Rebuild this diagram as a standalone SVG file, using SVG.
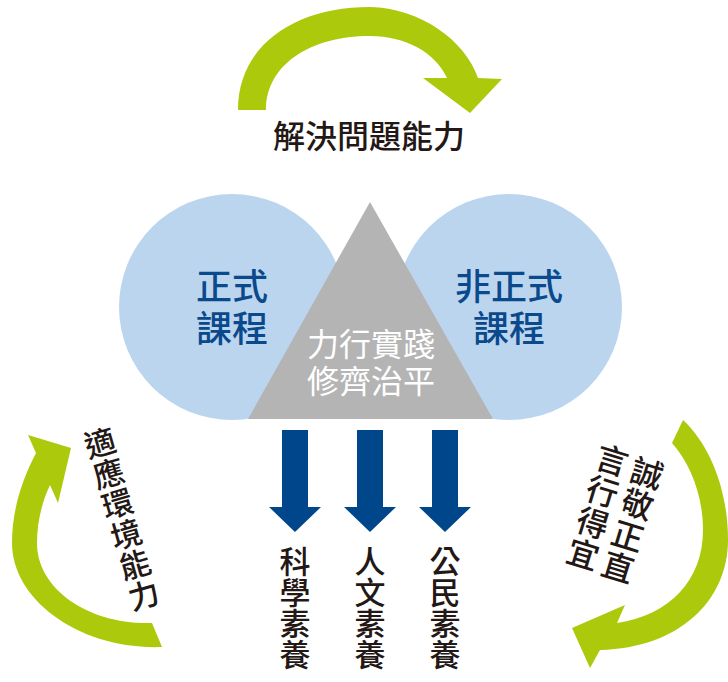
<svg xmlns="http://www.w3.org/2000/svg" width="728" height="682" viewBox="0 0 728 682">
<style>
.green{fill:#adc90b}
.circle{fill:#bcd5ee}
.tri{fill:#b4b4b4}
.down{fill:#00468b}
.t{font-family:"Noto Sans CJK TC","Noto Sans CJK SC",sans-serif;text-anchor:middle}
.dark{fill:#231815;font-size:31px;font-weight:500}
.blue{fill:#0a4a8c;font-size:36px;font-weight:500}
.white{fill:#ffffff;font-size:32px}
.v{font-family:"Noto Sans CJK TC","Noto Sans CJK SC",sans-serif;text-anchor:start;writing-mode:vertical-rl;text-orientation:upright;fill:#231815;font-size:31px;font-weight:500}
</style>
<rect width="728" height="682" fill="#ffffff"/>
<g id="arrows-cycle">
<path class="green" d="M238,110 C238,45 295,7 370,7 C420,8 465,40 478,78 L502,79 L470,113 L423,78 L447,78 C435,52 405,36 370,36 C310,36 266,65 266,110 Z"/>
<path class="green" d="M36,453 C22,480 12,510 12,543 C12,600 80,650 162,647 L152,623 C90,625 37,590 37,543 C37,522 42,502 50,485 L58,503 L71,448 L28,435 Z"/>
<path class="green" d="M683,420 C710,445 728,490 728,540 C728,600 680,648 600,650 L590,668 L572,628 L625,605 L617,623 C670,615 703,580 703,530 C703,495 690,463 672,443 Z"/>
</g>
<g id="node-formal">
<circle class="circle" cx="232" cy="307" r="113"/>
<text class="t blue" x="232" y="300">正式</text>
<text class="t blue" x="232" y="342">課程</text>
</g>
<g id="node-informal">
<circle class="circle" cx="509" cy="307" r="113"/>
<text class="t blue" x="509" y="300">非正式</text>
<text class="t blue" x="509" y="342">課程</text>
</g>
<g id="node-practice">
<polygon class="tri" points="370,202 493,419 248,419"/>
<text class="t white" x="371" y="356">力行實踐</text>
<text class="t white" x="371" y="393">修齊治平</text>
</g>
<g id="connectors">
<polygon class="down" points="282,430 308,430 308,507 321,507 295,532 269,507 282,507"/>
<polygon class="down" points="357,430 383,430 383,507 396,507 370,532 344,507 357,507"/>
<polygon class="down" points="432,430 458,430 458,507 471,507 445,532 419,507 432,507"/>
</g>
<g id="label-problem">
<text class="t dark" x="369" y="148" style="font-size:32px">解決問題能力</text>
</g>
<g id="label-science">
<text class="v" x="295" y="545.5">科學素養</text>
</g>
<g id="label-humanities">
<text class="v" x="370" y="545.5">人文素養</text>
</g>
<g id="label-civic">
<text class="v" x="445" y="545.5">公民素養</text>
</g>
<g id="label-adapt" transform="translate(100,443) rotate(-16)">
<text class="v" x="0" y="-15.5" style="letter-spacing:0.6px">適應環境能力</text>
</g>
<g id="label-integrity" transform="translate(647,473) rotate(17)">
<text class="v" x="0" y="-16" style="font-size:32px;letter-spacing:0.8px">誠敬正直</text>
</g>
<g id="label-conduct" transform="translate(612,460) rotate(17)">
<text class="v" x="0" y="-16" style="font-size:32px;letter-spacing:0.8px">言行得宜</text>
</g>
</svg>
